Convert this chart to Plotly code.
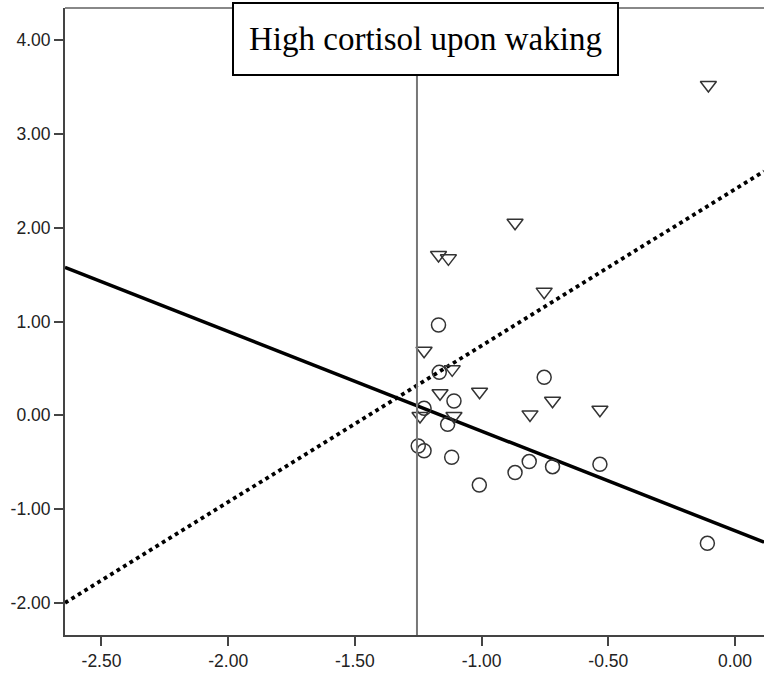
import plotly.graph_objects as go

# Data
circle_x = [-1.170, -1.167, -0.753, -1.109, -1.227, -1.134, -1.250, -1.227, -1.118,
            -1.009, -0.868, -0.812, -0.720, -0.533, -0.109]
circle_y = [0.963, 0.458, 0.405, 0.153, 0.075, -0.096, -0.327, -0.377, -0.447,
            -0.743, -0.610, -0.493, -0.547, -0.522, -1.364]
tri_x = [-0.105, -0.868, -1.170, -1.131, -0.753, -1.227, -1.116, -1.164, -1.008,
         -0.720, -0.809, -0.533, -1.243, -1.109]
tri_y = [3.52, 2.053, 1.708, 1.673, 1.318, 0.689, 0.49, 0.235, 0.252,
         0.156, 0.01, 0.059, -0.007, -0.007]

# fit lines (intercept, slope)
solid_fit = (-1.230, -1.062)
dotted_fit = (2.410, 1.667)
ref_x = -1.255
x_range = [-2.644, 0.1145]
y_range = [-2.341, 4.341]
x_ticks = [-2.5, -2.0, -1.5, -1.0, -0.5, 0.0]
y_ticks = [-2.0, -1.0, 0.0, 1.0, 2.0, 3.0, 4.0]
title_text = "High cortisol upon waking"

fig = go.Figure()

fit_x = list(x_range)
fig.add_trace(go.Scatter(x=fit_x, y=[solid_fit[0] + solid_fit[1] * v for v in fit_x],
                         mode="lines", line=dict(color="black", width=3.5),
                         showlegend=False, hoverinfo="skip"))
fig.add_trace(go.Scatter(x=fit_x, y=[dotted_fit[0] + dotted_fit[1] * v for v in fit_x],
                         mode="lines", line=dict(color="black", width=3.8, dash="dot"),
                         showlegend=False, hoverinfo="skip"))
fig.add_trace(go.Scatter(x=circle_x, y=circle_y, mode="markers",
                         marker=dict(symbol="circle-open", size=14, color="#333333",
                                     line=dict(width=1.5, color="#333333")),
                         showlegend=False))
fig.add_trace(go.Scatter(x=tri_x, y=tri_y, mode="markers",
                         marker=dict(symbol="triangle-down-open", size=14, color="#333333",
                                     line=dict(width=1.5, color="#333333")),
                         showlegend=False))

# vertical reference line
fig.add_shape(type="line", xref="x", yref="paper", x0=ref_x, x1=ref_x, y0=0, y1=1,
              line=dict(color="#777777", width=2))
# top border
fig.add_shape(type="line", xref="paper", yref="paper", x0=0, x1=1, y0=1, y1=1,
              line=dict(color="#888888", width=2))

# title box (pixel -> paper)
L, T, W, H = 65, 8, 699, 627
def px(x):
    return (x - L) / W
def py(y):
    return (T + H - y) / H
fig.add_shape(type="rect", xref="paper", yref="paper",
              x0=px(233), x1=px(618), y0=py(75), y1=py(3),
              line=dict(color="black", width=2), fillcolor="white", layer="above")
fig.add_annotation(xref="paper", yref="paper", x=px(425.5), y=py(39),
                   text=title_text, showarrow=False,
                   font=dict(family="Liberation Serif, Times New Roman, serif", size=33, color="black"),
                   xanchor="center", yanchor="middle")

axis_common = dict(showgrid=False, zeroline=False, showline=True, linecolor="#444444",
                   linewidth=2, ticks="outside", ticklen=9, tickwidth=2, tickcolor="#444444",
                   tickfont=dict(family="Liberation Sans, Arial, sans-serif", size=17.5, color="#222222"))
fig.update_xaxes(range=x_range, tickvals=x_ticks,
                 ticktext=[f"{v:.2f}" for v in x_ticks], **axis_common)
fig.update_yaxes(range=y_range, tickvals=y_ticks,
                 ticktext=[f"{v:.2f}" for v in y_ticks], **axis_common)

fig.update_layout(width=764, height=674, margin=dict(l=L, r=0, t=T, b=674 - T - H),
                  plot_bgcolor="white", paper_bgcolor="white")

fig.write_html("out.html")
